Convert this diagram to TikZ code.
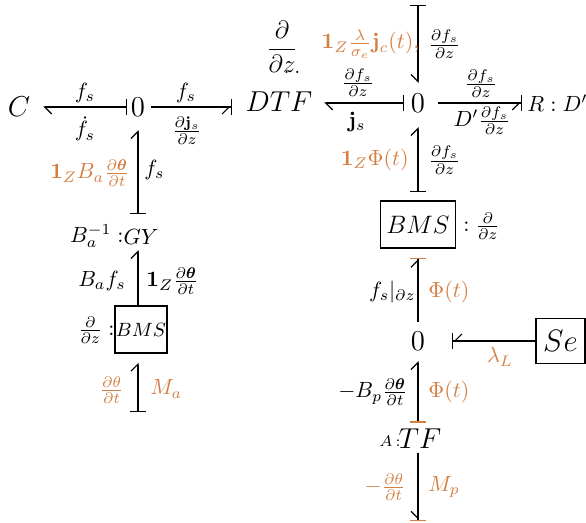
\RequirePackage{fix-cm}
\documentclass[tikz,border=0pt]{standalone}
\usepackage{amsmath,amssymb}
\usetikzlibrary{arrows.meta}
\definecolor{bgor}{RGB}{212,126,66}
\begin{document}
\begin{tikzpicture}[x=0.5pt,y=-0.5pt,
  lbl/.style={font=\fontsize{11}{13}\selectfont, inner sep=0pt},
  olbl/.style={lbl, text=bgor},
  elem/.style={inner sep=0pt, font=\fontsize{14.4}{17}\selectfont},
  boxel/.style={draw, line width=0.7pt, inner sep=0pt},
  bond/.style={line width=0.6pt},
  sbL/.style={bond, {Bar[width=8pt]}-{Straight Barb[left,length=3.5pt,width=7pt]}},
  sbR/.style={bond, {Bar[width=8pt]}-{Straight Barb[right,length=3.5pt,width=7pt]}},
  sobL/.style={bond, {Bar[width=8pt,color=bgor]}-{Straight Barb[left,length=3.5pt,width=7pt]}},
  ebR/.style={bond, -{Straight Barb[right,length=3.5pt,width=7pt,sep=0pt]Bar[width=8pt]}},
  ebLo/.style={bond, -{Straight Barb[left,length=3.5pt,width=7pt,sep=0pt]Bar[width=8pt,color=bgor]}},
  ebRo/.style={bond, -{Straight Barb[right,length=3.5pt,width=7pt,sep=0pt]Bar[width=8pt,color=bgor]}},
  nL/.style={bond, -{Straight Barb[left,length=3.5pt,width=7pt]}}
]
\useasboundingbox (0,0) rectangle (586,523);

% elements
\node[elem] (c) at (19,107) {$C$};
\node[elem] (z1) at (138,107) {$0$};
\node[elem] (dtf) at (279,102) {$DTF$};
\node[lbl, font=\fontsize{12.5}{14}\selectfont] (dz) at (282,47) {$\dfrac{\partial}{\partial z}$};
\node[lbl] (dzc) at (292,72) {.\hspace{2.5pt}.};
\node[elem] (z2) at (418,103) {$0$};
\node[lbl, anchor=west] (rd) at (527,103) {$R:D'$};
\coordinate (top) at (418,5);
\node[boxel, minimum width=37.5pt, minimum height=23.5pt, font=\fontsize{12.6}{15}\selectfont] (bmsr) at (418,224.5) {$BMS$};
\node[lbl, anchor=west] (bmsrl) at (463,226) {$:\frac{\partial}{\partial z}$};
\node[elem] (z3) at (418,341) {$0$};
\node[boxel, minimum width=24.5pt, minimum height=22.5pt, font=\fontsize{15.5}{18}\selectfont] (se) at (560.5,341) {$Se$};
\node[elem] (tf) at (420,439) {$TF$};
\node[lbl, anchor=east] (tfa) at (401,441) {$\scriptstyle A\,{:}$};
\coordinate (bot) at (418,521);
\node[elem, font=\fontsize{11}{13}\selectfont] (gy) at (141,237) {$GY$};
\node[lbl, anchor=east] (gyl) at (124,236) {$B_a^{-1}:$};
\node[boxel, minimum width=26pt, minimum height=23.5pt, font=\fontsize{9.6}{12}\selectfont] (bmsl) at (141,329.5) {$BMS$};
\node[lbl, anchor=east] (bmsll) at (115,330) {$\frac{\partial}{\partial z}:$};
\coordinate (bl) at (138,412);

% bonds, top row
\draw[sbL, shorten <=1.9pt, shorten >=6.35pt] (z1.west) -- (z1.west -| c.east);
\draw[ebR, shorten <=2.9pt, shorten >=6.7pt] (z1.east) -- (z1.east -| dtf.west);
\draw[sbL, shorten <=3.4pt, shorten >=5.7pt] (z2.west) -- (z2.west -| dtf.east);
\draw[ebR, shorten <=6.4pt, shorten >=2.5pt] (z2.east) -- (z2.east -| rd.west);
% right column
\draw[sbR, shorten >=5.2pt] (top) -- (top |- z2.north);
\draw[sbL, shorten <=4pt, shorten >=7.2pt] (bmsr.north) -- (bmsr.north |- z2.south);
\draw[ebLo, shorten <=4.7pt, shorten >=4.5pt] (z3.north) -- (z3.north |- bmsr.south);
\draw[ebR, shorten >=13.4pt] (se.west) -- (z3.east);
\draw[sobL, shorten <=3.1pt, shorten >=5.2pt] (tf.north -| z3) -- (z3.south);
\draw[ebRo, shorten <=2.1pt] (tf.south -| z3) -- (bot);
% left column
\draw[sbL, shorten <=7.6pt, shorten >=6.7pt] (z1 |- gy.north) -- (z1.south);
\draw[nL, shorten >=2.6pt] (z1 |- bmsl.north) -- (z1 |- gy.south);
\draw[sbL, shorten >=4.5pt] (bl) -- (z1 |- bmsl.south);

% labels
\node[lbl, anchor=south] (l1a) at (85,103) {$f_s$};
\node[lbl, anchor=north] (l1b) at (85,116) {$\dot f_s$};
\node[lbl, anchor=south] (l2a) at (186,103) {$f_s$};
\node[lbl, anchor=north] (l2b) at (187,116) {$\frac{\partial \mathbf{j}_s}{\partial z}$};
\node[lbl, anchor=south] (l3a) at (358,97) {$\frac{\partial f_s}{\partial z}$};
\node[lbl, anchor=north] (l3b) at (357,112) {$\mathbf{j}_s$};
\node[lbl, anchor=south] (l4a) at (481,98) {$\frac{\partial f_s}{\partial z}$};
\node[lbl, anchor=north] (l4b) at (482,106) {$D'\frac{\partial f_s}{\partial z}$};
\node[olbl, anchor=east] (v1a) at (420,44) {$\mathbf{1}_Z\frac{\lambda}{\sigma_e}\mathbf{j}_c(t),$};
\node[lbl, anchor=west] (v1b) at (428,44) {$\frac{\partial f_s}{\partial z}$};
\node[olbl, anchor=east] (v2a) at (409,160) {$\mathbf{1}_Z\Phi(t)$};
\node[lbl, anchor=west] (v2b) at (428,160) {$\frac{\partial f_s}{\partial z}$};
\node[lbl, anchor=east] (v3a) at (416,292) {$f_s|_{\partial z}$};
\node[olbl, anchor=west] (v3b) at (428,292) {$\Phi(t)$};
\node[olbl] (sel) at (500,357) {$\lambda_L$};
\node[lbl, anchor=east] (v4a) at (408,392) {$-B_p\frac{\partial\boldsymbol{\theta}}{\partial t}$};
\node[olbl, anchor=west] (v4b) at (428,392) {$\Phi(t)$};
\node[olbl, anchor=east] (v5a) at (406,487) {$-\frac{\partial\theta}{\partial t}$};
\node[olbl, anchor=west] (v5b) at (428,487) {$M_p$};
\node[olbl, anchor=east] (v6a) at (130,173) {$\mathbf{1}_Z B_a\frac{\partial\boldsymbol{\theta}}{\partial t}$};
\node[lbl, anchor=west] (v6b) at (144,170) {$f_s$};
\node[lbl, anchor=east] (v7a) at (126,281) {$B_a f_s$};
\node[lbl, anchor=west] (v7b) at (146,281) {$\mathbf{1}_Z\frac{\partial\boldsymbol{\theta}}{\partial t}$};
\node[olbl, anchor=east] (v8a) at (124,390) {$\frac{\partial\theta}{\partial t}$};
\node[olbl, anchor=west] (v8b) at (150,389) {$M_a$};
\end{tikzpicture}
\end{document}
